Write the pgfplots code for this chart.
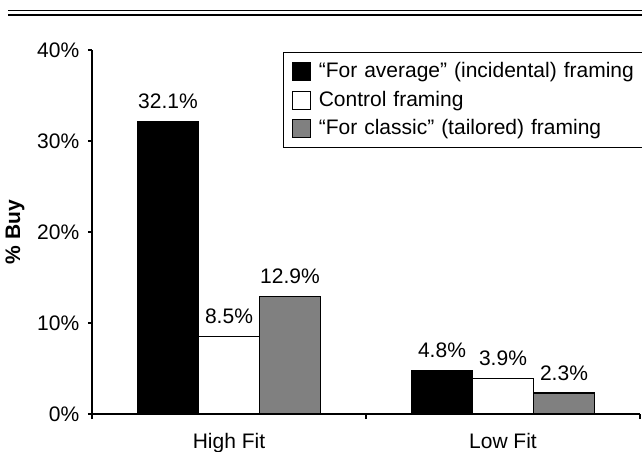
\documentclass[border=0pt]{standalone}
\usepackage{pgfplots}
\pgfplotsset{compat=1.18}
\usepackage{fontspec}
\setmainfont{Liberation Sans}
\definecolor{bargray}{RGB}{128,128,128}
\begin{document}
\fontsize{10.5}{12.6}\selectfont
\begin{tikzpicture}
\begin{axis}[
  at={(0,0)}, anchor=south west,
  scale only axis, width=274pt, height=182pt,
  /pgf/number format/assume math mode=true,
  ybar=0pt, bar width=30.5pt,
  xmin=-0.5, xmax=1.5, ymin=0, ymax=40,
  axis lines*=left,
  axis line style={line width=0.7pt, -},
  xtick={0,1}, xticklabels={High Fit, Low Fit},
  minor xtick={-0.5,0.5,1.5},
  major x tick style={draw=none},
  ytick={0,10,20,30,40},
  yticklabel={\pgfmathprintnumber{\tick}\%},
  tick align=outside,
  major tick length=2pt, minor tick length=2.5pt,
  tick style={line width=0.7pt, black},
  xticklabel style={yshift=-4pt},
  yticklabel style={xshift=-0.7pt},
  ylabel={\bfseries\% Buy},
  ylabel style={at={(axis description cs:-0.1095,0.5)}, anchor=south, rotate=0},
  nodes near coords={\pgfmathprintnumber[fixed,fixed zerofill,precision=1]{\pgfplotspointmeta}\%},
  every node near coord/.append style={anchor=base, yshift=6.5pt, black},
  area legend,
  legend image code/.code={\draw[#1] (0pt,-4.5pt) rectangle (9pt,4.5pt);},
  legend cell align=left,
  legend style={at={(axis description cs:0.3485,0.9945)}, anchor=north west,
    draw=black, line width=0.6pt, inner xsep=4pt, inner ysep=3pt,
    row sep=1pt,
    /tikz/every odd column/.append style={column sep=2pt},
    /tikz/every even column/.append style={text width=160pt}},
]
\addplot[fill=black, draw=black, line width=0.6pt] coordinates {(0,32.1) (1,4.8)};
\addplot[fill=white, draw=black, line width=0.6pt] coordinates {(0,8.5) (1,3.9)};
\addplot[fill=bargray, draw=black, line width=0.6pt] coordinates {(0,12.9) (1,2.3)};
\legend{``For average'' (incidental) framing, Control framing, ``For classic'' (tailored) framing}
\end{axis}
\draw[line width=0.65pt] (-42pt,201.6pt) -- (280pt,201.6pt);
\draw[line width=0.65pt] (-42pt,199.5pt) -- (280pt,199.5pt);
\pgfresetboundingbox
\path (-46pt,-18.5pt) rectangle (275pt,207pt);
\end{tikzpicture}
\end{document}
